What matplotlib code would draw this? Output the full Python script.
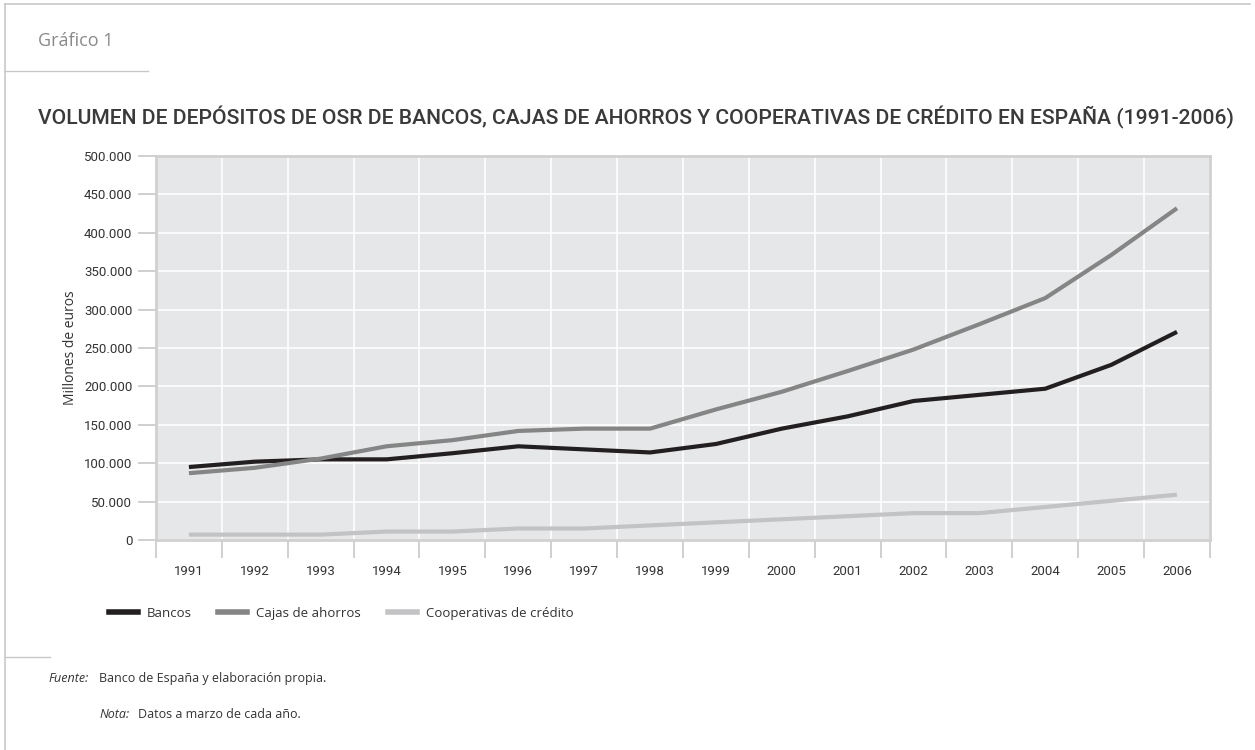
import matplotlib
matplotlib.use("Agg")
import matplotlib.pyplot as plt
from matplotlib import font_manager
from matplotlib.ticker import FuncFormatter, FixedLocator
from matplotlib.lines import Line2D

years = [str(y) for y in range(1991, 2007)]
bancos = [95000, 102000, 105000, 105000, 113000, 122000, 118000, 114000,
          125000, 145000, 161000, 181000, 189000, 197000, 228000, 271000]
cajas = [87000, 94000, 106000, 122000, 130000, 142000, 145000, 145000,
         170000, 193000, 220000, 248000, 281000, 315000, 371000, 432000]
cooperativas = [7000, 7000, 7000, 11000, 11000, 15000, 15000, 19000,
                23000, 27000, 31000, 35000, 35000, 43000, 51000, 59000]
series_names = ["Bancos", "Cajas de ahorros", "Cooperativas de crédito"]
series_colors = ["#231f20", "#858585", "#c3c3c5"]


def pick_font(*names):
    for n in names:
        try:
            font_manager.findfont(n, fallback_to_default=False)
            return n
        except Exception:
            pass
    return "DejaVu Sans"


narrow = pick_font("Liberation Sans Narrow", "Roboto", "DejaVu Sans")
plain = pick_font("Open Sans", "Lato", "DejaVu Sans")
plt.rcParams["font.family"] = [plain, "DejaVu Sans"]

fig = plt.figure(figsize=(12.55, 7.5), dpi=100)

# outer frame and separators
frame_col = "#c8c8c8"
fig.add_artist(Line2D([0.004, 0.004], [0.0, 0.995], color=frame_col, lw=1.2, transform=fig.transFigure))
fig.add_artist(Line2D([0.004, 0.996], [0.995, 0.995], color=frame_col, lw=1.2, transform=fig.transFigure))
fig.add_artist(Line2D([0.004, 0.118], [0.906, 0.906], color=frame_col, lw=1.0, transform=fig.transFigure))
fig.add_artist(Line2D([0.004, 0.040], [0.124, 0.124], color=frame_col, lw=1.0, transform=fig.transFigure))

fig.text(0.030, 0.945, "Gráfico 1", fontsize=13, color="#8a8a8a", va="center")
title = fig.text(0.030, 0.843,
                 "VOLUMEN DE DEPÓSITOS DE OSR DE BANCOS, CAJAS DE AHORROS Y COOPERATIVAS DE CRÉDITO EN ESPAÑA (1991-2006)",
                 fontsize=15.5, color="#3a3a3a", va="center", family=[narrow, "DejaVu Sans"], fontweight="medium")
# shrink the title so it spans the same width as in the original
renderer = fig.canvas.get_renderer()
w = title.get_window_extent(renderer).width
title.set_fontsize(15.5 * min(1.0, 1202.0 / w))

ax = fig.add_axes([0.1243, 0.28, 0.8398, 0.512])
ax.set_facecolor("#e6e7e8")
x = list(range(len(years)))
for vals, name, col in zip([bancos, cajas, cooperativas], series_names, series_colors):
    ax.plot(x, vals, color=col, lw=3.0, label=name, solid_capstyle="butt", zorder=3)

ax.set_xlim(-0.5, len(years) - 0.5)
ax.set_ylim(0, 500000)
ax.set_yticks(range(0, 500001, 50000))
ax.yaxis.set_major_formatter(FuncFormatter(lambda v, p: f"{int(v):,}".replace(",", ".")))
ax.xaxis.set_major_locator(FixedLocator([i - 0.5 for i in range(len(years) + 1)]))
ax.xaxis.set_minor_locator(FixedLocator(x))
ax.set_xticklabels([])
ax.set_xticklabels(years, minor=True)
ax.tick_params(axis="x", which="major", length=13, color="#c8c8c8", width=1.2)
ax.tick_params(axis="x", which="minor", length=0, pad=18, labelsize=9.5, labelcolor="#333333")
ax.tick_params(axis="y", length=13, color="#c8c8c8", width=1.2, labelsize=9.5, labelcolor="#333333", pad=4)
for lab in ax.get_xticklabels(minor=True) + ax.get_yticklabels():
    lab.set_family([narrow, "DejaVu Sans"])

ax.grid(True, which="major", color="white", lw=1.2, zorder=1)
ax.set_axisbelow(True)
for sp in ax.spines.values():
    sp.set_color("#d0d0d0")
    sp.set_linewidth(2)
ax.set_ylabel("Millones de euros", fontsize=10, color="#333333", labelpad=4)

handles = [Line2D([], [], color=c, lw=4) for c in series_colors]
fig.legend(handles, series_names, loc="upper left", bbox_to_anchor=(0.077, 0.207), ncol=3,
           frameon=False, fontsize=9.5, handlelength=2.2, columnspacing=2.0, handletextpad=0.7,
           labelcolor="#333333")

fig.text(0.039, 0.095, "Fuente:", fontsize=9, style="italic", color="#333333", va="center")
fig.text(0.079, 0.095, "Banco de España y elaboración propia.", fontsize=9, color="#333333", va="center")
fig.text(0.079, 0.048, "Nota:", fontsize=9, style="italic", color="#333333", va="center")
fig.text(0.110, 0.048, "Datos a marzo de cada año.", fontsize=9, color="#333333", va="center")

fig.savefig("out.png", dpi=100, facecolor="white")
